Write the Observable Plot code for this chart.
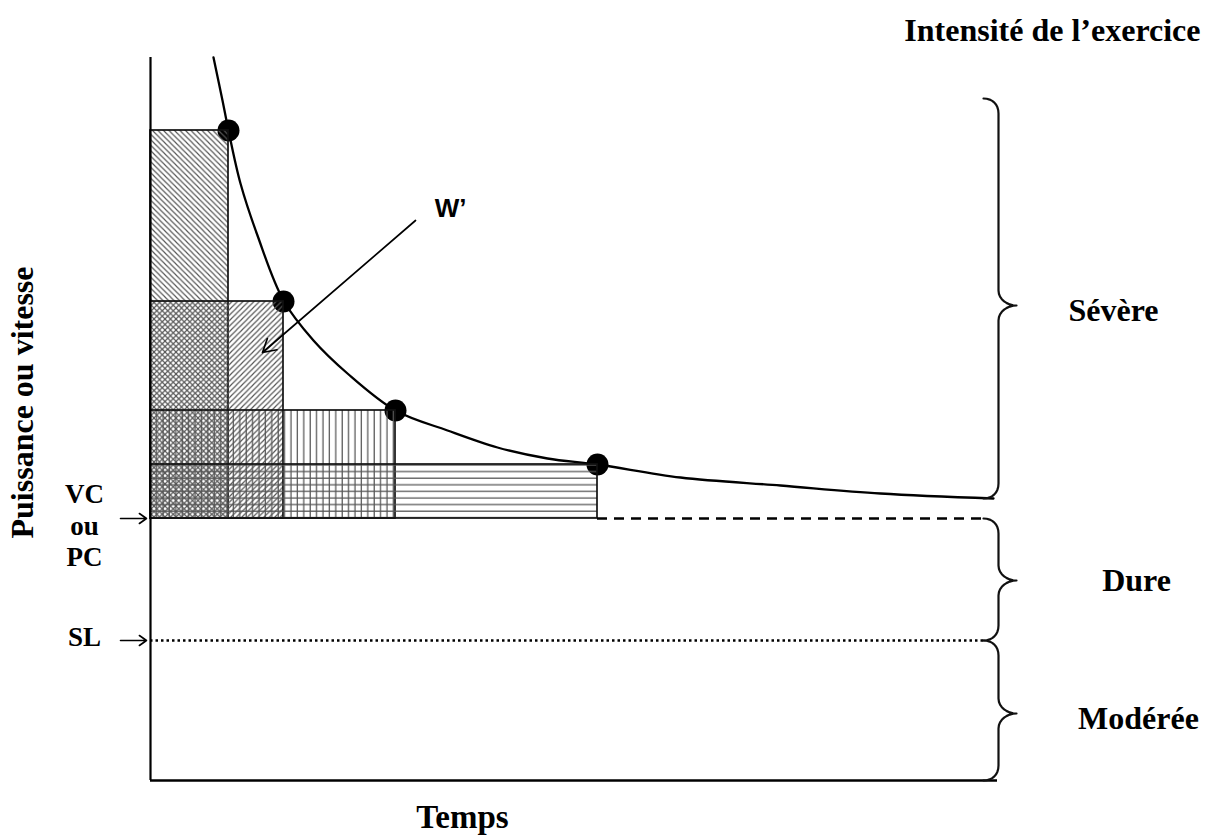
<!DOCTYPE html>
<html>
<head>
<meta charset="utf-8">
<script src="https://cdn.jsdelivr.net/npm/d3@7"></script>
<script src="https://cdn.jsdelivr.net/npm/@observablehq/plot@0.6"></script>
<style>
  html, body { margin: 0; padding: 0; background: #fff; }
</style>
</head>
<body>
<div id="chart"></div>
<script>
// ---------- data (arbitrary time / power units) ----------
const curveTime  = [63, 72, 78, 90, 107, 133, 163, 197, 245, 297, 347, 397, 447, 530, 630, 730, 843];
const curvePower = [723, 680, 650, 597, 545, 480, 440, 407, 370, 350, 333, 322, 316, 303, 295, 287, 282];

const trialTime  = [78, 133, 245, 447];
const trialPower = [650, 479, 370, 316];
const trialHatch = ["hatchDown", "hatchUp", "hatchVert", "hatchHoriz"];

const CP = 262;   // VC ou PC
const SL = 140;   // seuil lactique
const timeMax = 847;
const powerMax = 723;

const zoneLabels = ["Sévère", "Dure", "Modérée"];
const zoneTop    = [682, 262, 140];
const zoneBottom = [282, 140, 0];
const zoneTip    = [475, 200, 67];
const zoneLabelTime  = [963, 986, 988];
const zoneLabelPower = [470, 200, 62];

const thresholdLabels = ["VC", "ou", "PC", "SL"];
const thresholdLabelPower = [286, 254, 223, 143];
const thresholdArrows = [CP, SL];

const wPrime = {label: "W’", t: 300, p: 572, t1: 265, p1: 560, t2: 112, p2: 428};

// ---------- derived tables ----------
const curve = curveTime.map((t, i) => ({t, p: curvePower[i]}));
const trials = trialTime.map((t, i) => ({t, p: trialPower[i], hatch: trialHatch[i]}));

function bez(p0, p1, p2, p3, n) {
  const out = [];
  for (let k = 0; k <= n; k++) {
    const u = k / n, v = 1 - u;
    out.push({
      t: v*v*v*p0[0] + 3*v*v*u*p1[0] + 3*v*u*u*p2[0] + u*u*u*p3[0],
      p: v*v*v*p0[1] + 3*v*v*u*p1[1] + 3*v*u*u*p2[1] + u*u*u*p3[1]
    });
  }
  return out;
}
function bracePath(top, bottom, tip, zone) {
  const xb = timeMax + 1, c = 15, w = 18;
  const pts = [
    ...bez([xb - c, top], [xb - c*0.4, top], [xb, top - c*0.4], [xb, top - c], 8),
    ...bez([xb, tip + c], [xb, tip + c*0.4], [xb + w*0.5, tip], [xb + w, tip], 8),
    ...bez([xb + w, tip], [xb + w*0.5, tip], [xb, tip - c*0.4], [xb, tip - c], 8),
    ...bez([xb, bottom + c], [xb, bottom + c*0.4], [xb - c*0.4, bottom], [xb - c, bottom], 8)
  ];
  return pts.map(d => ({...d, zone}));
}
const braces = zoneLabels.flatMap((z, i) => bracePath(zoneTop[i], zoneBottom[i], zoneTip[i], z));
const zoneText = zoneLabels.map((z, i) => ({z, t: zoneLabelTime[i], p: zoneLabelPower[i]}));
const thresholdText = thresholdLabels.map((s, i) => ({s, p: thresholdLabelPower[i]}));

const serif = "'Liberation Serif', 'Times New Roman', serif";

const marks = [
  // curve
  Plot.line(curve, {x: "t", y: "p", curve: "catmull-rom", stroke: "#000", strokeWidth: 2.3}),
  // dots
  Plot.dot(trials, {x: "t", y: "p", r: 11, fill: "#000"}),
  // hatched rectangles
  ...trials.map(d => Plot.rect([d], {
    x1: 0, x2: "t", y1: CP, y2: "p",
    fill: `url(#${d.hatch})`, stroke: "#111", strokeWidth: 1.7
  })),
  // CP dashed, SL dotted
  Plot.ruleY([CP], {x1: trialTime[3], x2: timeMax - 14, stroke: "#000", strokeWidth: 2.4, strokeDasharray: "10,7"}),
  Plot.ruleY([SL], {x1: 0, x2: timeMax - 14, stroke: "#000", strokeWidth: 2.6, strokeDasharray: "2.5,3"}),
  // axes lines
  Plot.ruleX([0], {y1: 0, y2: powerMax, stroke: "#000", strokeWidth: 2.2}),
  Plot.ruleY([0], {x1: 0, x2: timeMax, stroke: "#000", strokeWidth: 2.4}),
  // braces
  Plot.line(braces, {x: "t", y: "p", z: "zone", stroke: "#111", strokeWidth: 2.2}),
  // threshold arrows
  Plot.arrow(thresholdArrows, {x1: -30, x2: -4, y1: d => d, y2: d => d, stroke: "#000", strokeWidth: 1.6, headLength: 11, headAngle: 70}),
  // W' arrow + label
  Plot.arrow([wPrime], {x1: "t1", y1: "p1", x2: "t2", y2: "p2", stroke: "#000", strokeWidth: 1.7, headLength: 13, headAngle: 60}),
  Plot.text([wPrime], {x: "t", y: "p", text: "label", fontFamily: "'Liberation Sans', Arial, sans-serif", fontWeight: "bold", fontSize: 26, fill: "#000"}),
  // threshold labels
  Plot.text(thresholdText, {x: -66, y: "p", text: "s", fontFamily: serif, fontWeight: "bold", fontSize: 27, fill: "#000"}),
  // zone labels
  Plot.text(zoneText, {x: "t", y: "p", text: "z", fontFamily: serif, fontWeight: "bold", fontSize: 32, fill: "#000"}),
  // title & axis labels
  Plot.text(["Intensité de l’exercice"], {x: 1050, y: 750, text: d => d, textAnchor: "end", fontFamily: serif, fontWeight: "bold", fontSize: 32, fill: "#000"}),
  Plot.text(["Puissance ou vitesse"], {x: -128, y: 378, text: d => d, rotate: -90, fontFamily: serif, fontWeight: "bold", fontSize: 32, fill: "#000"}),
  Plot.text(["Temps"], {x: 312, y: -37, text: d => d, fontFamily: serif, fontWeight: "bold", fontSize: 33, fill: "#000"})
];

const svg = Plot.plot({
  width: 1215,
  height: 838,
  marginLeft: 150,
  marginRight: 215,
  marginTop: 57,
  marginBottom: 58,
  x: {domain: [0, 850], axis: null},
  y: {domain: [0, powerMax], axis: null},
  style: {background: "#fff", overflow: "visible"},
  marks
});

const defs = document.createElementNS("http://www.w3.org/2000/svg", "defs");
defs.innerHTML = `
  <pattern id="hatchDown" patternUnits="userSpaceOnUse" width="5.5" height="5.5">
    <path d="M0,0 L5.5,5.5 M-1,4.5 L1,6.5 M4.5,-1 L6.5,1" stroke="#555" stroke-width="1.15"/>
  </pattern>
  <pattern id="hatchUp" patternUnits="userSpaceOnUse" width="5.5" height="5.5">
    <path d="M0,5.5 L5.5,0 M-1,1 L1,-1 M4.5,6.5 L6.5,4.5" stroke="#555" stroke-width="1.15"/>
  </pattern>
  <pattern id="hatchVert" patternUnits="userSpaceOnUse" width="6.4" height="10">
    <path d="M3,0 L3,10" stroke="#555" stroke-width="1.25"/>
  </pattern>
  <pattern id="hatchHoriz" patternUnits="userSpaceOnUse" width="10" height="6.6">
    <path d="M0,3 L10,3" stroke="#555" stroke-width="1.25"/>
  </pattern>`;
svg.insertBefore(defs, svg.firstChild);
document.getElementById("chart").appendChild(svg);
</script>
</body>
</html>
